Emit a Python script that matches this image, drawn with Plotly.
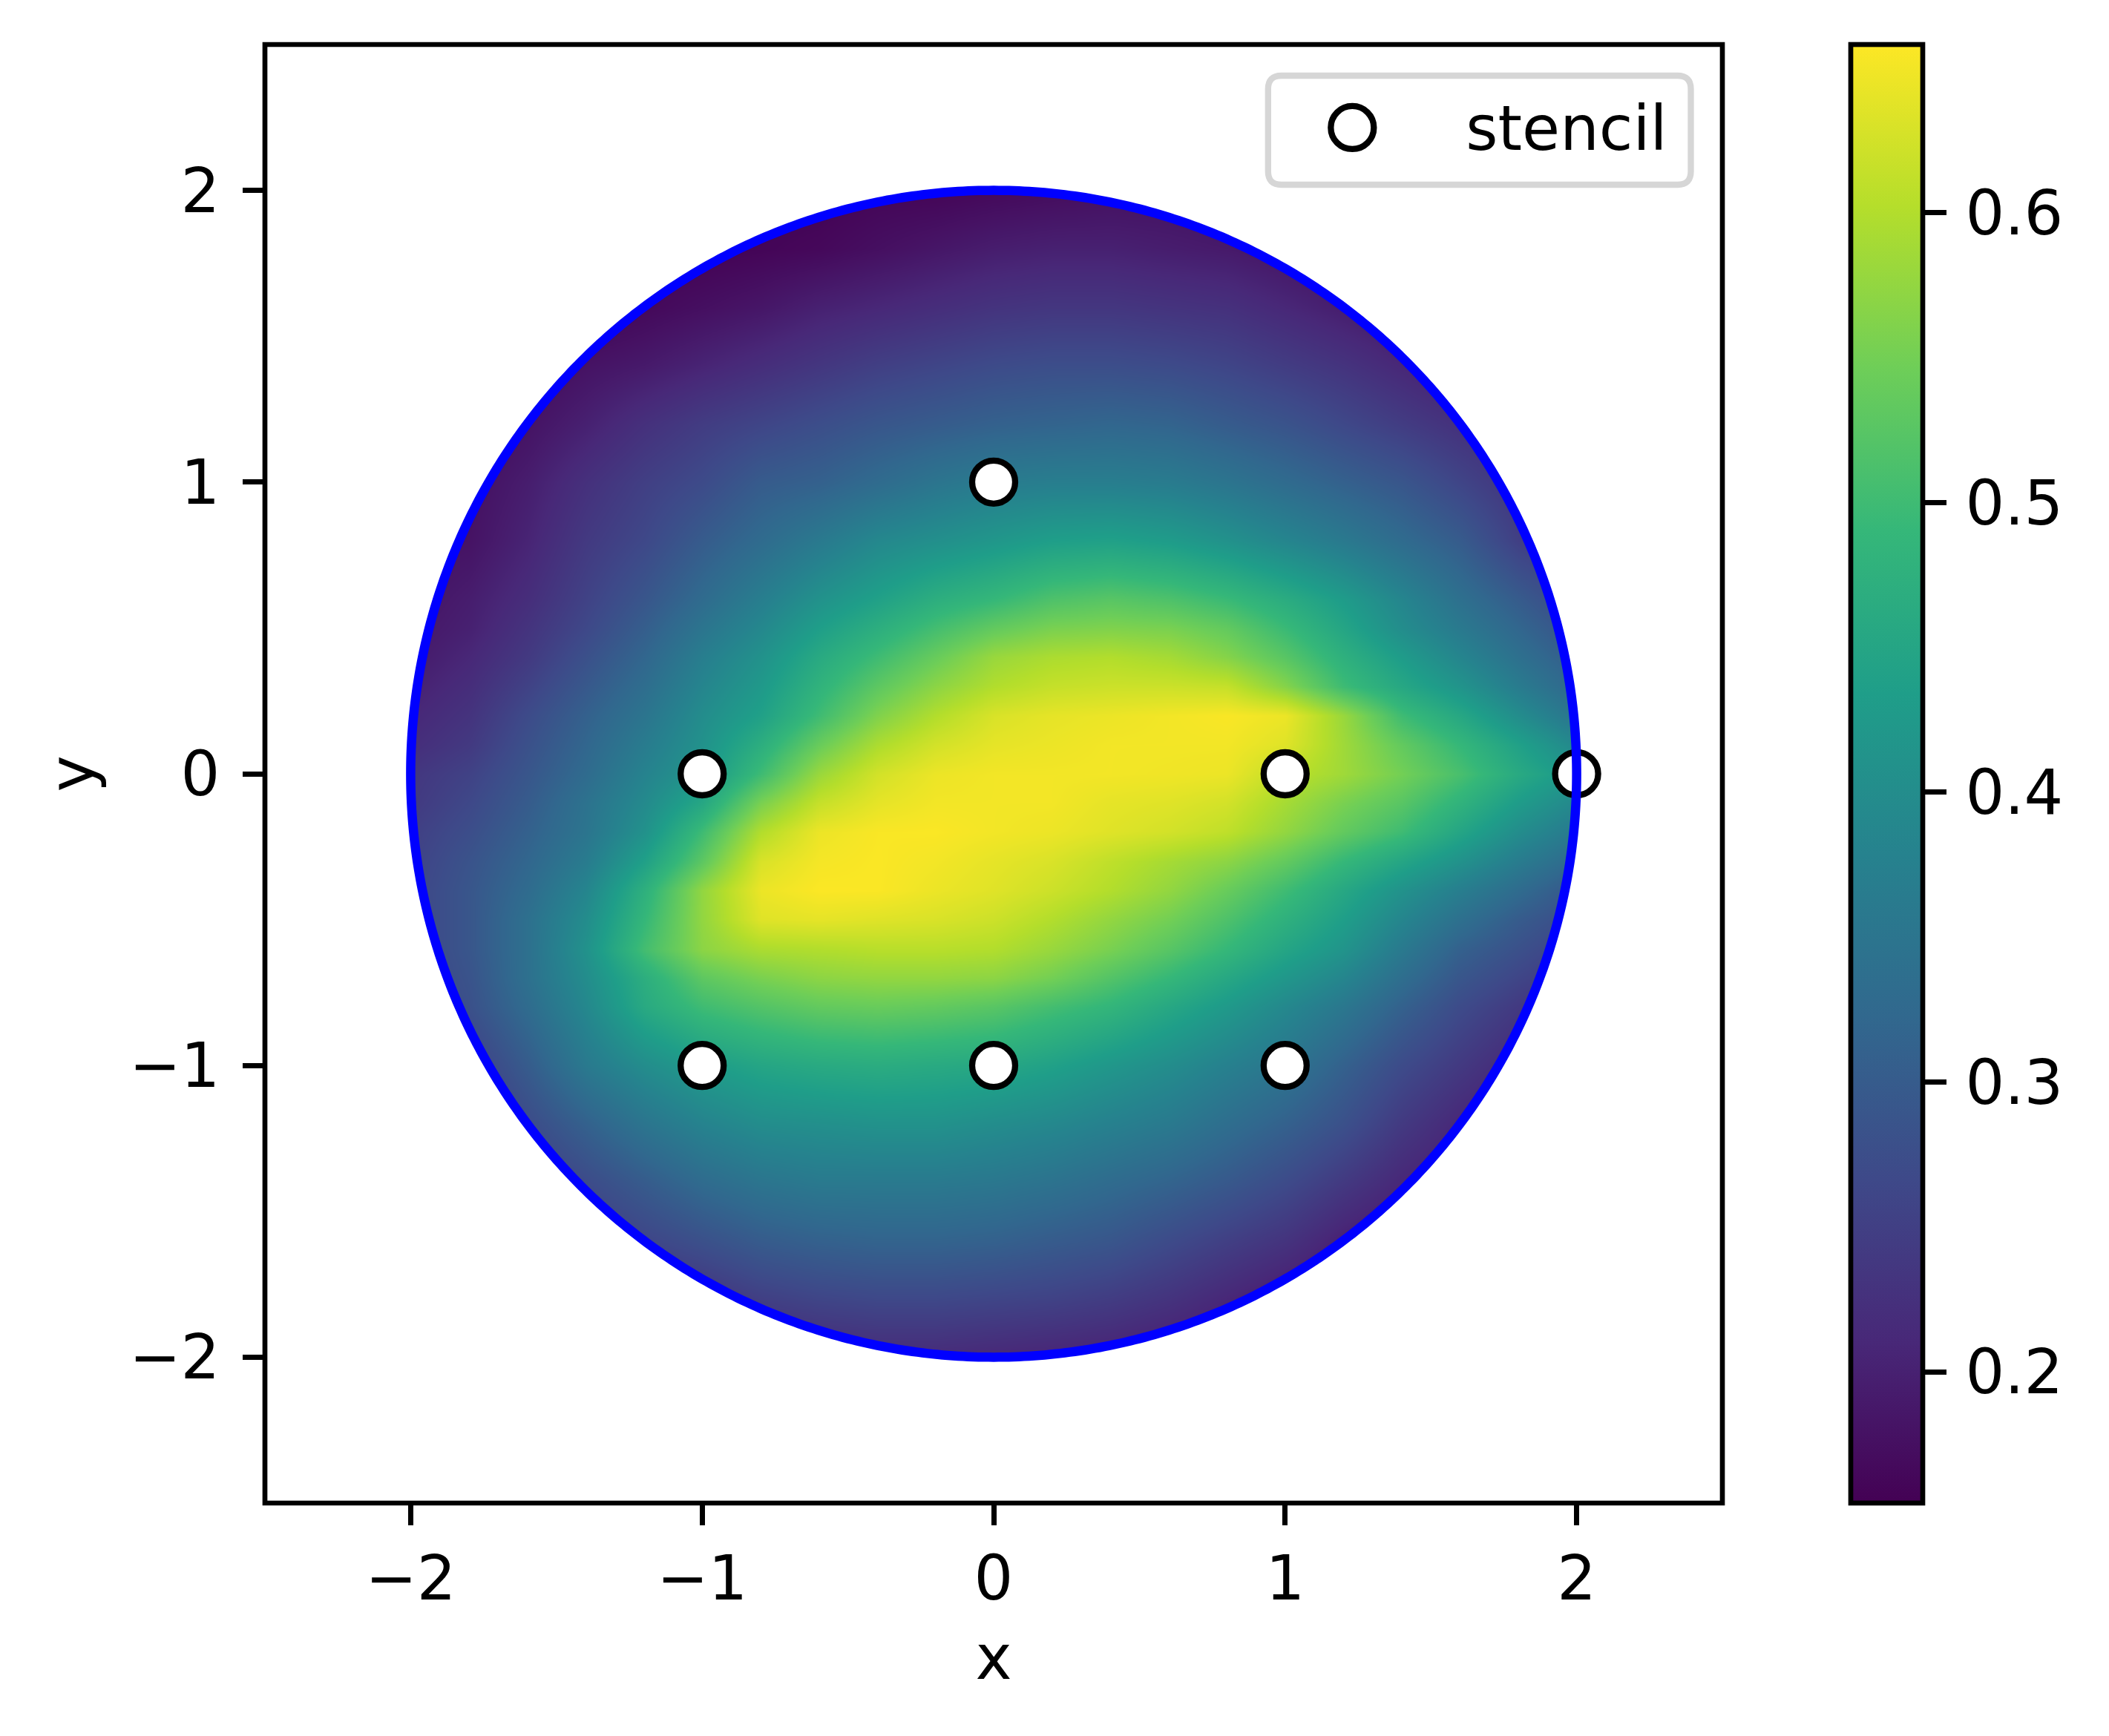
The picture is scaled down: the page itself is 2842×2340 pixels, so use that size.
import numpy as np
import plotly.graph_objects as go

x_grid = [-2.0,-1.8,-1.6,-1.4,-1.2,-1.0,-0.8,-0.6,-0.4,-0.2,0.0,0.2,0.4,0.6,0.8,1.0,1.2,1.4,1.6,1.8,2.0]
y_grid = [2.0,1.8,1.6,1.4,1.2,1.0,0.8,0.6,0.5,0.4,0.3,0.2,0.1,0.0,-0.1,-0.2,-0.3,-0.4,-0.5,-0.6,-0.7,-0.8,-1.0,-1.2,-1.4,-1.6,-1.8,-2.0]
z_values = [
 [.155,.155,.155,.155,.155,.155,.155,.155,.16,.16,.165,.17,.175,.175,.17,.17,.17,.17,.17,.17,.17],
 [.155,.155,.155,.155,.155,.155,.16,.165,.175,.185,.195,.20,.20,.195,.19,.18,.17,.17,.17,.17,.17],
 [.155,.155,.155,.155,.165,.175,.185,.20,.21,.22,.23,.235,.235,.23,.225,.21,.195,.18,.18,.18,.18],
 [.16,.16,.165,.18,.19,.205,.22,.235,.25,.26,.27,.275,.275,.27,.26,.245,.23,.21,.19,.19,.19],
 [.165,.165,.18,.20,.225,.245,.26,.275,.29,.30,.31,.315,.32,.315,.30,.285,.265,.245,.225,.21,.21],
 [.17,.175,.195,.225,.25,.27,.30,.31,.33,.35,.365,.37,.37,.365,.35,.33,.31,.29,.26,.23,.22],
 [.175,.18,.205,.24,.265,.30,.33,.36,.39,.405,.42,.435,.44,.43,.41,.385,.36,.33,.30,.25,.23],
 [.18,.195,.22,.255,.29,.33,.37,.41,.44,.47,.49,.515,.525,.515,.495,.465,.43,.385,.34,.30,.26],
 [.185,.20,.23,.265,.305,.35,.39,.435,.47,.505,.535,.555,.56,.555,.535,.495,.45,.40,.36,.32,.28],
 [.19,.21,.24,.28,.32,.37,.41,.46,.50,.54,.58,.595,.60,.59,.565,.525,.475,.43,.385,.34,.30],
 [.20,.22,.255,.295,.335,.385,.425,.48,.53,.57,.60,.615,.62,.62,.615,.565,.50,.455,.415,.365,.32],
 [.21,.23,.27,.31,.35,.40,.44,.50,.56,.60,.63,.64,.645,.65,.655,.645,.58,.50,.455,.40,.35],
 [.22,.24,.28,.32,.365,.41,.47,.54,.595,.625,.64,.645,.65,.65,.65,.635,.585,.535,.49,.44,.39],
 [.235,.255,.29,.33,.38,.42,.50,.58,.625,.645,.65,.65,.65,.648,.645,.61,.585,.55,.51,.46,.42],
 [.24,.265,.30,.345,.395,.455,.555,.615,.64,.65,.65,.65,.64,.635,.625,.59,.555,.525,.48,.43,.39],
 [.25,.275,.31,.35,.41,.50,.60,.645,.655,.656,.65,.645,.635,.625,.61,.575,.535,.50,.45,.40,.36],
 [.255,.285,.32,.365,.44,.53,.63,.652,.656,.65,.64,.63,.61,.59,.57,.535,.49,.45,.41,.365,.325],
 [.26,.29,.33,.385,.475,.575,.645,.657,.656,.645,.635,.62,.60,.575,.54,.50,.455,.41,.37,.33,.29],
 [.26,.29,.34,.40,.49,.575,.635,.64,.635,.63,.62,.60,.575,.55,.515,.475,.435,.385,.34,.30,.27],
 [.26,.29,.34,.41,.505,.57,.595,.60,.605,.605,.60,.58,.555,.525,.49,.45,.415,.36,.31,.28,.25],
 [.255,.285,.34,.40,.47,.53,.555,.57,.575,.575,.57,.55,.52,.49,.455,.42,.385,.335,.29,.26,.235],
 [.25,.28,.33,.39,.46,.50,.52,.535,.54,.535,.525,.505,.485,.455,.425,.39,.355,.31,.27,.24,.22],
 [.23,.25,.30,.36,.40,.43,.45,.46,.465,.46,.455,.44,.42,.40,.375,.35,.31,.27,.24,.21,.20],
 [.21,.23,.27,.31,.35,.38,.40,.405,.41,.41,.40,.39,.375,.36,.335,.31,.28,.24,.21,.19,.18],
 [.20,.21,.24,.27,.30,.33,.35,.36,.36,.36,.355,.345,.33,.315,.295,.27,.24,.21,.19,.18,.17],
 [.19,.20,.22,.24,.26,.28,.30,.31,.315,.315,.31,.30,.29,.27,.25,.23,.20,.18,.17,.17,.165],
 [.18,.19,.20,.21,.22,.23,.25,.26,.265,.265,.26,.255,.245,.23,.21,.19,.175,.17,.165,.16,.16],
 [.17,.17,.18,.18,.19,.20,.205,.21,.215,.215,.21,.205,.20,.19,.18,.17,.165,.16,.16,.155,.155],
]
stencil_x = [-1, 0, 1, -1, 1, 0, 2]
stencil_y = [-1, -1, -1, 0, 0, 1, 0]
circle_radius = 2.0
axis_range = [-2.5, 2.5]
axis_ticks = [-2, -1, 0, 1, 2]
colorbar_ticks = [0.2, 0.3, 0.4, 0.5, 0.6]
z_min, z_max = 0.1547, 0.6581

W, H = 2842, 2340
L, R, T, B = 356.5, 2321.5, 60, 2026
FS = 83
LW = 6.67
FONT = dict(family="DejaVu Sans", size=FS, color="black")

theta = np.linspace(0, 2 * np.pi, 721)
cx, cy = circle_radius * np.cos(theta), circle_radius * np.sin(theta)
lo, hi = axis_range
mask_x = [lo, hi, hi, lo, lo] + list(cx[::-1]) + [lo]
mask_y = [lo, lo, hi, hi, lo] + list(cy[::-1]) + [lo]

fig = go.Figure()
fig.add_trace(go.Heatmap(
    x=x_grid, y=y_grid, z=z_values, zsmooth="best", colorscale="Viridis",
    zmin=z_min, zmax=z_max, hoverinfo="skip", showlegend=False,
    colorbar=dict(
        thicknessmode="pixels", thickness=97, lenmode="pixels", len=B - T,
        x=2494 / W, xref="container", xanchor="left", xpad=0, ypad=0,
        y=0.5, yref="paper", yanchor="middle",
        outlinecolor="black", outlinewidth=LW, borderwidth=0,
        tickmode="array", tickvals=colorbar_ticks, ticktext=["0.2", "0.3", "0.4", "0.5", "0.6"],
        ticks="outside", ticklen=29, tickwidth=LW, tickcolor="black",
        tickfont=FONT,
    ),
))
fig.add_trace(go.Scatter(x=mask_x, y=mask_y, mode="lines", fill="toself", fillcolor="white",
                         line=dict(width=0, color="white", simplify=False),
                         hoverinfo="skip", showlegend=False))
fig.add_trace(go.Scatter(x=stencil_x, y=stencil_y, mode="markers", name="stencil",
                         marker=dict(size=58, color="white", line=dict(color="black", width=8.3))))
fig.add_trace(go.Scatter(x=cx, y=cy, mode="lines",
                         line=dict(color="#0000ff", width=12.5, simplify=False),
                         hoverinfo="skip", showlegend=False))

axis = dict(range=axis_range, tickmode="array", tickvals=axis_ticks, ticks="outside", ticklen=29,
            tickwidth=LW, tickcolor="black", tickfont=FONT, showgrid=False, zeroline=False,
            showline=False, automargin=False)
fig.update_xaxes(**axis, ticklabelstandoff=0, title=dict(text="x", font=FONT, standoff=30))
fig.update_yaxes(**axis, ticklabelstandoff=14, title=dict(text="y", font=FONT, standoff=19))

def px(v):
    return (v - L) / (R - L)
def py(v):
    return (B - v) / (B - T)

# axes frame
fig.add_shape(type="rect", xref="paper", yref="paper", x0=0, x1=1, y0=0, y1=1,
              line=dict(color="black", width=LW), layer="above")
# rounded legend box
bx0, bx1, by0, by1, r = px(1709), px(2279), py(102), py(249), 18
rx, ry = r / (R - L), r / (B - T)
path = (f"M {bx0+rx},{by0} L {bx1-rx},{by0} Q {bx1},{by0} {bx1},{by0-ry} L {bx1},{by1+ry} "
        f"Q {bx1},{by1} {bx1-rx},{by1} L {bx0+rx},{by1} Q {bx0},{by1} {bx0},{by1+ry} "
        f"L {bx0},{by0-ry} Q {bx0},{by0} {bx0+rx},{by0} Z")
fig.add_shape(type="path", xref="paper", yref="paper", path=path,
              line=dict(color="#d6d6d6", width=8.3), fillcolor="white", layer="above")

fig.update_layout(
    width=W, height=H, paper_bgcolor="white", plot_bgcolor="white",
    margin=dict(l=L, r=W - R, t=T, b=H - B, pad=0, autoexpand=False),
    font=FONT, showlegend=True,
    legend=dict(x=px(1669.5), y=py(109.5), xanchor="left", yanchor="top", bgcolor="rgba(0,0,0,0)",
                borderwidth=0, font=FONT, itemwidth=296, itemsizing="trace"),
)

post = """
document.body.style.margin = '0';
document.querySelectorAll('.legend .legendpoints path.scatterpts').forEach(function(p){
  var k = 58/16;
  p.setAttribute('transform', 'translate(0,2) ' + (p.getAttribute('transform')||'') + ' scale(' + k + ')');
  p.style.strokeWidth = (8.3/k) + 'px';
});
document.querySelectorAll('.colorbar .cbaxis text, .colorbar .ticklabels text, .colorbar text').forEach(function(t){
  var x = parseFloat(t.getAttribute('x')||'0');
  t.setAttribute('x', x + 9);
});
"""
fig.write_html("out.html", post_script=post, config={"displayModeBar": False})
